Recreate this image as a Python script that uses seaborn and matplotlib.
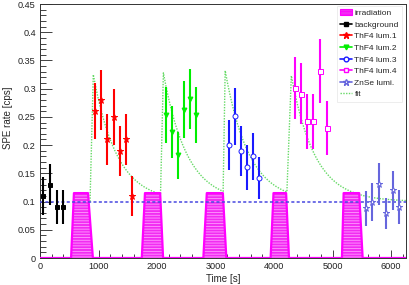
import numpy as np
import matplotlib
matplotlib.use("Agg")
import matplotlib.pyplot as plt
import seaborn as sns
from matplotlib.lines import Line2D
from matplotlib.patches import Patch

# ---------------- data ----------------
bkg_t = [57, 171, 285, 388]
bkg_y = [0.11, 0.13, 0.09, 0.09]
bkg_e = [0.034, 0.036, 0.03, 0.03]

lum1_t = [940, 1043, 1151, 1259, 1362, 1465, 1568]
lum1_y = [0.26, 0.28, 0.21, 0.25, 0.19, 0.21, 0.11]
lum1_e = [0.05, 0.053, 0.046, 0.05, 0.044, 0.046, 0.035]

lum2_t = [2149, 2251, 2354, 2457, 2559, 2662]
lum2_y = [0.253, 0.223, 0.182, 0.263, 0.282, 0.253]
lum2_e = [0.05, 0.046, 0.042, 0.05, 0.053, 0.05]

lum3_t = [3231, 3333, 3437, 3539, 3647, 3749]
lum3_y = [0.2, 0.251, 0.19, 0.161, 0.18, 0.142]
lum3_e = [0.044, 0.05, 0.044, 0.04, 0.042, 0.037]

lum4_t = [4360, 4462, 4570, 4672, 4787, 4901]
lum4_y = [0.301, 0.291, 0.242, 0.242, 0.331, 0.231]
lum4_e = [0.055, 0.054, 0.049, 0.049, 0.057, 0.048]

znse_t = [5568, 5682, 5801, 5915, 6030, 6143]
znse_y = [0.088, 0.099, 0.131, 0.079, 0.12, 0.09]
znse_e = [0.031, 0.033, 0.037, 0.028, 0.035, 0.03]

irr_start = [531, 1740, 2792, 3942, 5161]
irr_top_start = [580, 1794, 2851, 3991, 5190]
irr_top_end = [821, 2054, 3126, 4207, 5456]
irr_end = [904, 2104, 3185, 4256, 5515]
irr_level = 0.115

fit_base = 0.1
fit_rise_t = [855, 2060, 3130, 4220]
fit_peak_t = [911, 2109, 3165, 4296]
fit_peak_y = [0.325, 0.328, 0.332, 0.323]
fit_tau = 403.0

x_max = 6256
y_max = 0.45

labels = ["irradiation", "background", "ThF4 lum.1", "ThF4 lum.2",
          "ThF4 lum.3", "ThF4 lum.4", "ZnSe lumi.", "fit"]

# ---------------- style ----------------
sns.set_style("ticks")
plt.rcParams["font.family"] = ["Liberation Sans", "DejaVu Sans"]
plt.rcParams["hatch.linewidth"] = 0.6

fig = plt.figure(figsize=(4.09, 2.85), dpi=100)
ax = fig.add_axes([40 / 409, 1 - 258 / 285, 366 / 409, 254 / 285])

MAG = "#ff00ff"
FITC = "#66d966"

# ---------------- fit curve ----------------
fx, fy = [], []
for i in range(len(fit_peak_t)):
    t0 = fit_rise_t[i]
    if i == 0:
        y0 = fit_base
    else:
        y0 = fit_base + (fit_peak_y[i - 1] - fit_base) * np.exp(-(t0 - fit_peak_t[i - 1]) / fit_tau)
    fx += [t0]
    fy += [y0]
    t_end = fit_rise_t[i + 1] if i + 1 < len(fit_rise_t) else x_max
    tt = np.linspace(fit_peak_t[i], t_end - 1, 200)
    fx += list(tt)
    fy += list(fit_base + (fit_peak_y[i] - fit_base) * np.exp(-(tt - fit_peak_t[i]) / fit_tau))
sns.lineplot(x=fx, y=fy, ax=ax, estimator=None, sort=False, color=FITC,
             linestyle=(0, (1, 1)), linewidth=1.0, zorder=2)

# ---------------- irradiation ----------------
ix, iy = [0], [0]
for s, ts, te, e in zip(irr_start, irr_top_start, irr_top_end, irr_end):
    ix += [s, ts, te, e]
    iy += [0, irr_level, irr_level, 0]
ix += [x_max]
iy += [0]
ax.fill_between(ix, 0, iy, facecolor="#f22cf2", edgecolor="#ff9cff",
                hatch="------", linewidth=0, zorder=3)
sns.lineplot(x=ix, y=iy, ax=ax, estimator=None, sort=False, color=MAG,
             linewidth=1.6, zorder=3.5)

# baseline
sns.lineplot(x=[0, x_max], y=[fit_base, fit_base], ax=ax, estimator=None,
             color="#4848e0", linestyle=(0, (2, 1.5)), linewidth=1.1, zorder=4)

# ---------------- data points ----------------
series = [
    (bkg_t, bkg_y, bkg_e, "black", "s", 3.0, "black"),
    (lum1_t, lum1_y, lum1_e, "#ff0000", "*", 4.8, "#ff0000"),
    (lum2_t, lum2_y, lum2_e, "#00ee00", "v", 3.5, "#00ee00"),
    (lum3_t, lum3_y, lum3_e, "#1a1aff", "o", 3.6, "white"),
    (lum4_t, lum4_y, lum4_e, MAG, "s", 3.6, "white"),
    (znse_t, znse_y, znse_e, "#6666dd", "*", 4.8, "white"),
]
for t, y, e, c, m, ms, fc in series:
    ax.errorbar(t, y, yerr=e, fmt=m, color=c, ecolor=c, elinewidth=1.5,
                capsize=0, markersize=ms, markerfacecolor=fc,
                markeredgecolor=c, markeredgewidth=0.7, zorder=5)

# ---------------- axes ----------------
ax.set_xlim(0, x_max)
ax.set_ylim(0, y_max)
ax.set_xticks(np.arange(0, 6001, 1000))
ax.set_xticks(np.arange(0, x_max, 200), minor=True)
yt = np.round(np.arange(0, 0.451, 0.05), 2)
ax.set_yticks(yt)
ax.set_yticklabels([f"{v:g}" for v in yt])
ax.set_yticks(np.arange(0, 0.451, 0.01), minor=True)
ax.tick_params(axis="both", which="both", direction="in", labelsize=6.6,
               colors="#222222", width=0.6)
ax.tick_params(axis="y", which="major", length=8.5, pad=3)
ax.tick_params(axis="y", which="minor", length=4.3)
ax.tick_params(axis="x", which="major", length=5.5, pad=3)
ax.tick_params(axis="x", which="minor", length=2.8)
for sp in ax.spines.values():
    sp.set_visible(True)
    sp.set_linewidth(0.7)
    sp.set_color("#333333")
ax.set_xlabel("Time [s]", fontsize=7, labelpad=2)
ax.set_ylabel("")
fig.text(8 / 409, 1 - 118 / 285, "SPE rate [cps]", rotation=90, fontsize=7,
         ha="center", va="center")

# ---------------- legend ----------------
handles = [
    Patch(facecolor="#f22cf2", edgecolor=MAG, hatch="-----", linewidth=0.8),
    Line2D([], [], color="black", marker="s", ms=3.0, lw=1.2),
    Line2D([], [], color="#ff0000", marker="*", ms=4.5, lw=1.2),
    Line2D([], [], color="#00ee00", marker="v", ms=3.4, lw=1.2),
    Line2D([], [], color="#1a1aff", marker="o", ms=3.4, mfc="white", lw=1.2),
    Line2D([], [], color=MAG, marker="s", ms=3.4, mfc="white", lw=1.2),
    Line2D([], [], color="#6666dd", marker="*", ms=4.5, mfc="white", lw=1.2),
    Line2D([], [], color=FITC, linestyle=(0, (1, 1)), lw=1.0),
]
leg = fig.legend(handles, labels, loc="upper left",
                 bbox_to_anchor=(337 / 409, 1 - 6 / 285), fontsize=6,
                 frameon=True, fancybox=False, framealpha=1,
                 edgecolor="#e6e6e6", borderpad=0.4, labelspacing=0.45,
                 handlelength=1.4, handletextpad=0.3, borderaxespad=0)
leg.get_frame().set_linewidth(0.5)

fig.savefig("out.png", dpi=100)
